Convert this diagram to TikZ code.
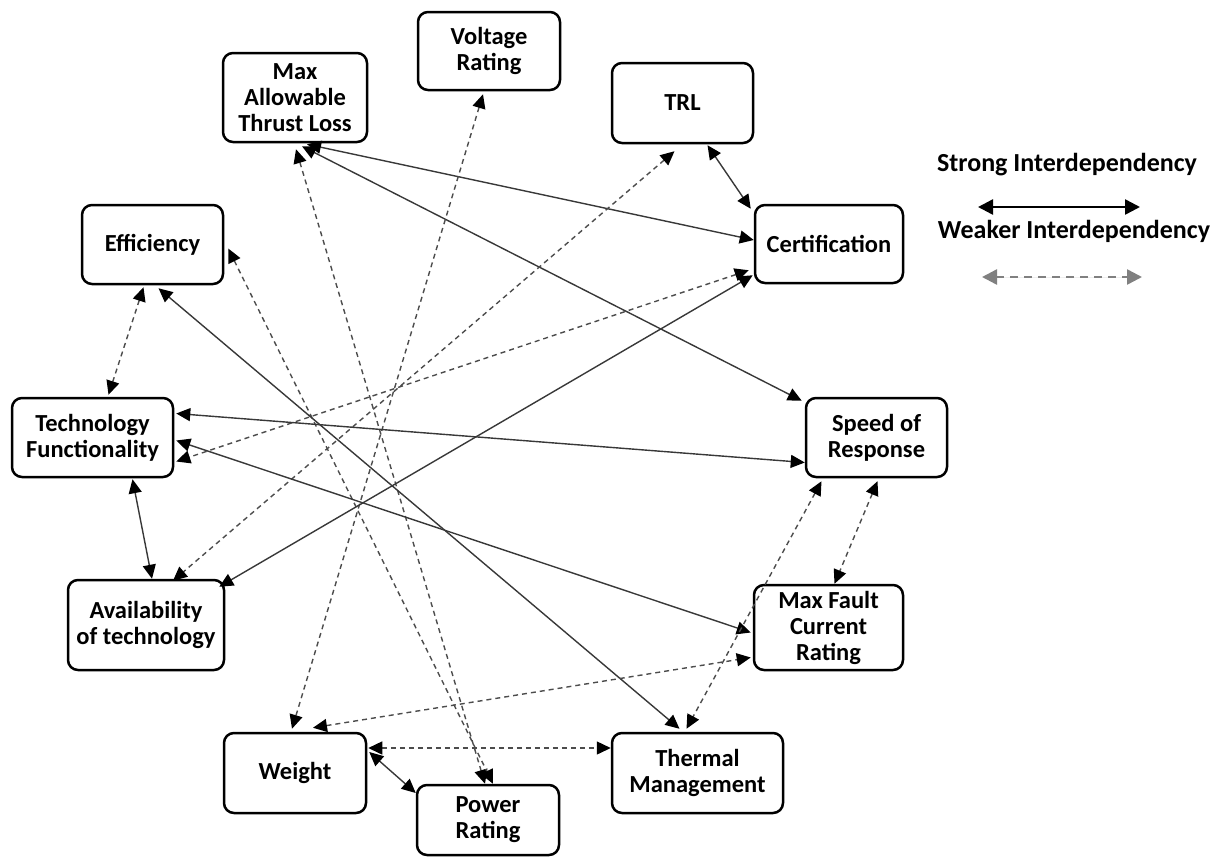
\documentclass[tikz,border=0pt]{standalone}
\usepackage{fontspec}
\setmainfont{Carlito}
\usetikzlibrary{arrows.meta,calc}
\tikzset{
  box/.style={draw=black, line width=2.5pt, rounded corners=10pt, align=center,
    inner sep=0pt, fill=white, font=\fontsize{24.5}{26}\selectfont\bfseries},
  legtext/.style={inner sep=0pt, font=\fontsize{26}{30}\selectfont\bfseries},
  tipA/.tip={Triangle[length=14pt,width=13pt,color=black]},
  strong/.style={line width=1.4pt, draw=black!78, tipA-tipA},
  weak/.style={line width=1.4pt, draw=black!70, dash pattern=on 5pt off 4pt, tipA-tipA},
  legstrong/.style={line width=2.5pt, draw=black, {Triangle[length=15pt,width=15pt]}-{Triangle[length=15pt,width=15pt]}},
  legweak/.style={line width=2.5pt, draw=black!50, fill=black!50, dash pattern=on 8pt off 6pt, {Triangle[length=15pt,width=15pt]}-{Triangle[length=15pt,width=15pt]}}
}
\begin{document}
\begin{tikzpicture}[x=1pt,y=-1pt]
\useasboundingbox (0,0) rectangle (1228,860);
% nodes
\node[box, minimum width=142pt, minimum height=78pt] (volt) at (489,51) {Voltage\\Rating};
\node[box, minimum width=144pt, minimum height=89pt] (mat) at (295,97.5) {Max\\Allowable\\Thrust Loss};
\node[box, minimum width=141pt, minimum height=80pt] (trl) at (682.5,103) {TRL};
\node[box, minimum width=148pt, minimum height=78pt] (cert) at (829,244) {Certification};
\node[box, minimum width=141pt, minimum height=79pt] (eff) at (152.5,244.5) {Efficiency};
\node[box, minimum width=161pt, minimum height=79pt] (tech) at (92.5,437.5) {Technology\\Functionality};
\node[box, minimum width=141pt, minimum height=79pt] (speed) at (876.5,437.5) {Speed of\\Response};
\node[box, minimum width=156pt, minimum height=90pt] (avail) at (146,625) {Availability\\of technology};
\node[box, minimum width=149pt, minimum height=85pt] (fault) at (828.5,627.5) {Max Fault\\Current\\Rating};
\node[box, minimum width=142pt, minimum height=80pt] (weight) at (295,773) {Weight};
\node[box, minimum width=171pt, minimum height=80pt] (therm) at (697.5,773) {Thermal\\Management};
\node[box, minimum width=142pt, minimum height=70pt] (power) at (488,820) {Power\\Rating};
% connectors
\draw[strong] ($(mat.south)+(12,1)$) -- ($(cert.west)+(0,-4)$);
\draw[strong] ($(mat.south)+(7,3)$) -- ($(speed.north west)+(-3,4)$);
\draw[weak] ($(mat.south)+(1,6)$) -- ($(power.north)+(-3,0)$);
\draw[weak] ($(eff.east)+(4,4)$) -- ($(power.north)+(5,0)$);
\draw[weak] ($(volt.south)+(-6,3)$) -- ($(weight.north)+(-3,-3)$);
\draw[strong] ($(trl.south)+(25,1)$) -- ($(cert.north west)+(-3,5)$);
\draw[weak] ($(trl.south)+(-8,7)$) -- ($(avail.north)+(27,2)$);
\draw[strong] ($(cert.south west)+(-1,-9)$) -- ($(avail.north east)+(-6,8)$);
\draw[weak] ($(cert.south west)+(-5,-14)$) -- ($(tech.east)+(2,24)$);
\draw[weak] ($(eff.south)+(-9,2)$) -- ($(tech.north)+(16,-2)$);
\draw[strong] ($(eff.south)+(6,3)$) -- ($(therm.north)+(-18,-3)$);
\draw[strong] ($(tech.east)+(2,-24)$) -- ($(speed.west)+(0,25)$);
\draw[strong] ($(tech.east)+(2,3)$) -- ($(fault.west)+(-2,5)$);
\draw[weak] ($(speed.south)+(-55,3)$) -- ($(therm.north)+(-11,-3)$);
\draw[weak] ($(speed.south)+(1,3)$) -- ($(fault.north)+(6,0)$);
\draw[weak] ($(weight.north)+(18,-4)$) -- ($(fault.west)+(-2,30)$);
\draw[weak] ($(weight.east)+(1,-25)$) -- ($(therm.west)+(0,-25)$);
\draw[strong] ($(weight.east)+(2,-21)$) -- ($(power.west)+(0,-27)$);
\draw[strong] ($(tech.south)+(40,1)$) -- ($(avail.north)+(6,0)$);
% legend
\node[legtext] (lstrong) at (1067,165) {Strong Interdependency};
\node[legtext] (lweak) at (1074,231) {Weaker Interdependency};
\coordinate (lsA) at (978,207);
\coordinate (lsB) at (1140,207);
\coordinate (lwA) at (982,277);
\coordinate (lwB) at (1142,277);
\draw[legstrong] (lsA) -- (lsB);
\draw[legweak] (lwA) -- (lwB);
\end{tikzpicture}
\end{document}
